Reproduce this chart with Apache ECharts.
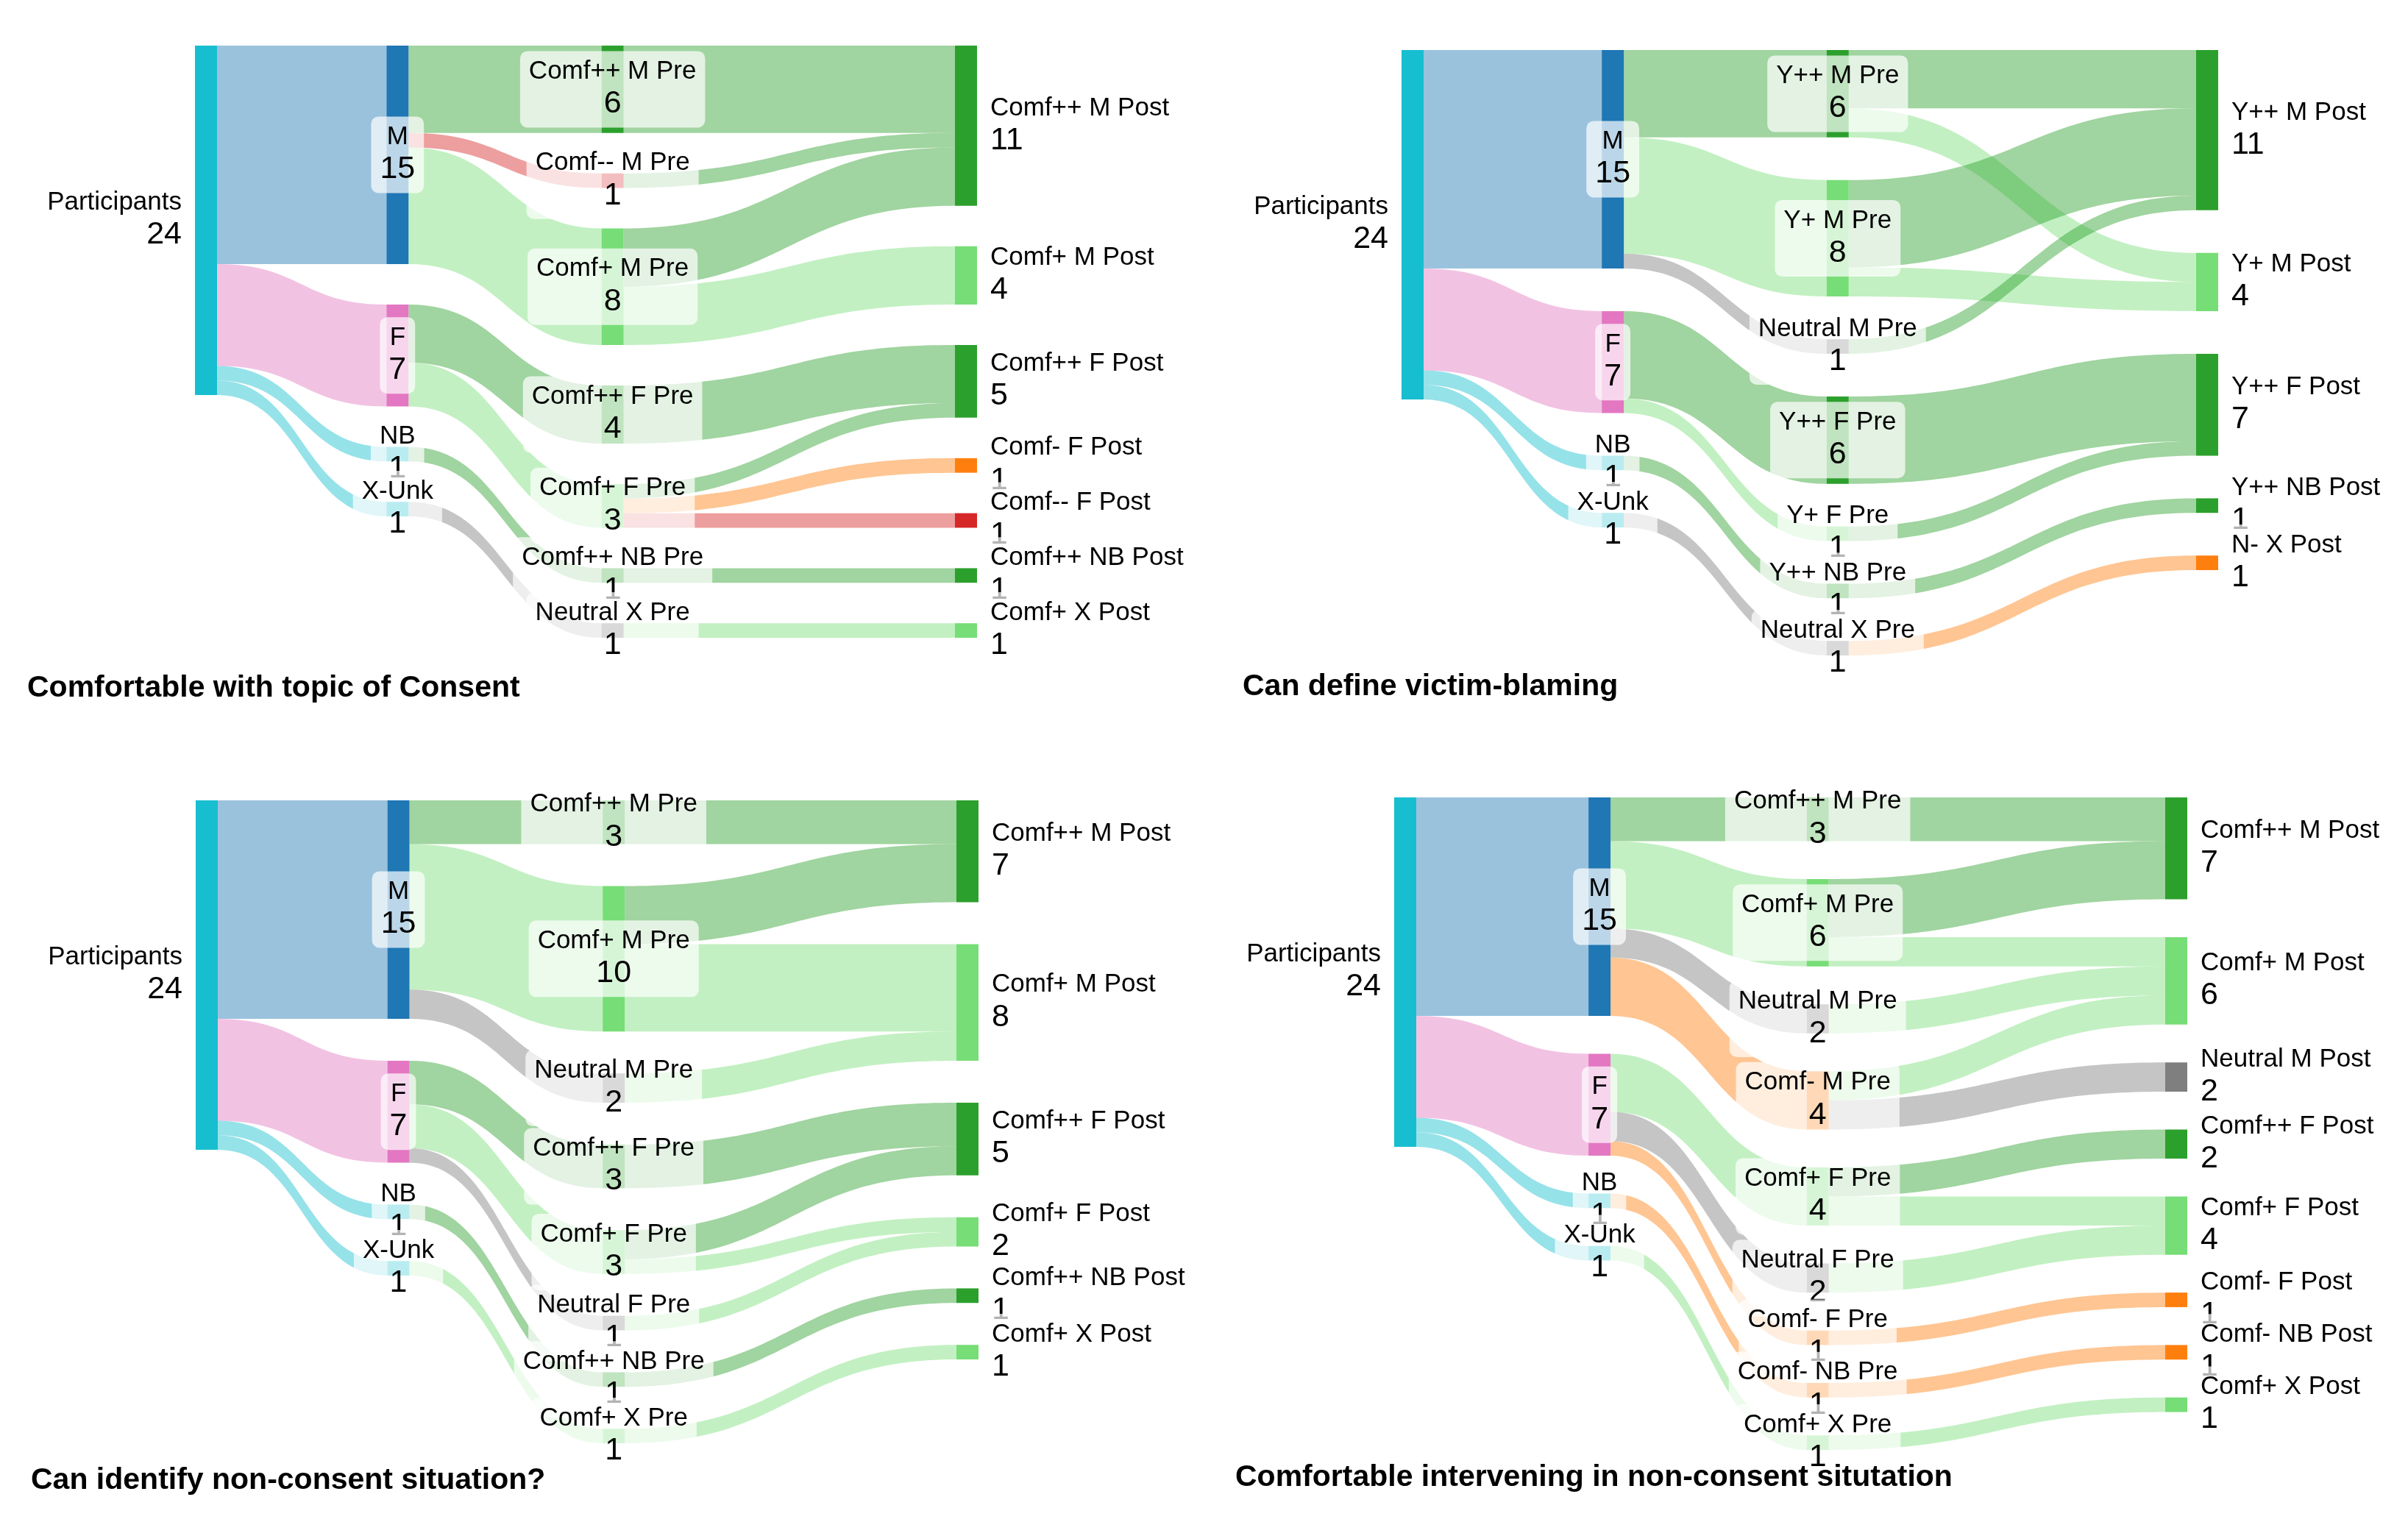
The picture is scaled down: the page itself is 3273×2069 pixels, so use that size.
<!DOCTYPE html>
<html>
<head>
<meta charset="utf-8">
<script src="https://cdn.jsdelivr.net/npm/echarts@6/dist/echarts.min.js"></script>
<style>
html,body{margin:0;padding:0;background:#fff;}
#chart{width:3273px;height:2069px;}
</style>
</head>
<body>
<div id="chart"></div>
<script>
// ---------- DATA ----------
const titles = [
  'Comfortable with topic of Consent',
  'Can define victim-blaming',
  'Can identify non-consent situation?',
  'Comfortable intervening in non-consent situtation'
];
const rootName = 'Participants';
const genders = ['M', 'F', 'NB', 'X-Unk'];
const genderCounts = [15, 7, 1, 1];

// Chart 1: Comfortable with topic of Consent
const c1Pre = ['Comf++ M Pre', 'Comf-- M Pre', 'Comf+ M Pre', 'Comf++ F Pre', 'Comf+ F Pre', 'Comf++ NB Pre', 'Neutral X Pre'];
const c1Post = ['Comf++ M Post', 'Comf+ M Post', 'Comf++ F Post', 'Comf- F Post', 'Comf-- F Post', 'Comf++ NB Post', 'Comf+ X Post'];
const c1GenderPre = [
  ['M', 'Comf++ M Pre', 6], ['M', 'Comf-- M Pre', 1], ['M', 'Comf+ M Pre', 8],
  ['F', 'Comf++ F Pre', 4], ['F', 'Comf+ F Pre', 3],
  ['NB', 'Comf++ NB Pre', 1], ['X-Unk', 'Neutral X Pre', 1]
];
const c1PrePost = [
  ['Comf++ M Pre', 'Comf++ M Post', 6], ['Comf-- M Pre', 'Comf++ M Post', 1],
  ['Comf+ M Pre', 'Comf++ M Post', 4], ['Comf+ M Pre', 'Comf+ M Post', 4],
  ['Comf++ F Pre', 'Comf++ F Post', 4], ['Comf+ F Pre', 'Comf++ F Post', 1],
  ['Comf+ F Pre', 'Comf- F Post', 1], ['Comf+ F Pre', 'Comf-- F Post', 1],
  ['Comf++ NB Pre', 'Comf++ NB Post', 1], ['Neutral X Pre', 'Comf+ X Post', 1]
];

// Chart 2: Can define victim-blaming
const c2Pre = ['Y++ M Pre', 'Y+ M Pre', 'Neutral M Pre', 'Y++ F Pre', 'Y+ F Pre', 'Y++ NB Pre', 'Neutral X Pre'];
const c2Post = ['Y++ M Post', 'Y+ M Post', 'Y++ F Post', 'Y++ NB Post', 'N- X Post'];
const c2GenderPre = [
  ['M', 'Y++ M Pre', 6], ['M', 'Y+ M Pre', 8], ['M', 'Neutral M Pre', 1],
  ['F', 'Y++ F Pre', 6], ['F', 'Y+ F Pre', 1],
  ['NB', 'Y++ NB Pre', 1], ['X-Unk', 'Neutral X Pre', 1]
];
const c2PrePost = [
  ['Y++ M Pre', 'Y++ M Post', 4], ['Y++ M Pre', 'Y+ M Post', 2],
  ['Y+ M Pre', 'Y++ M Post', 6], ['Y+ M Pre', 'Y+ M Post', 2],
  ['Neutral M Pre', 'Y++ M Post', 1],
  ['Y++ F Pre', 'Y++ F Post', 6], ['Y+ F Pre', 'Y++ F Post', 1],
  ['Y++ NB Pre', 'Y++ NB Post', 1], ['Neutral X Pre', 'N- X Post', 1]
];

// Chart 3: Can identify non-consent situation?
const c3Pre = ['Comf++ M Pre', 'Comf+ M Pre', 'Neutral M Pre', 'Comf++ F Pre', 'Comf+ F Pre', 'Neutral F Pre', 'Comf++ NB Pre', 'Comf+ X Pre'];
const c3Post = ['Comf++ M Post', 'Comf+ M Post', 'Comf++ F Post', 'Comf+ F Post', 'Comf++ NB Post', 'Comf+ X Post'];
const c3GenderPre = [
  ['M', 'Comf++ M Pre', 3], ['M', 'Comf+ M Pre', 10], ['M', 'Neutral M Pre', 2],
  ['F', 'Comf++ F Pre', 3], ['F', 'Comf+ F Pre', 3], ['F', 'Neutral F Pre', 1],
  ['NB', 'Comf++ NB Pre', 1], ['X-Unk', 'Comf+ X Pre', 1]
];
const c3PrePost = [
  ['Comf++ M Pre', 'Comf++ M Post', 3],
  ['Comf+ M Pre', 'Comf++ M Post', 4], ['Comf+ M Pre', 'Comf+ M Post', 6],
  ['Neutral M Pre', 'Comf+ M Post', 2],
  ['Comf++ F Pre', 'Comf++ F Post', 3],
  ['Comf+ F Pre', 'Comf++ F Post', 2], ['Comf+ F Pre', 'Comf+ F Post', 1],
  ['Neutral F Pre', 'Comf+ F Post', 1],
  ['Comf++ NB Pre', 'Comf++ NB Post', 1], ['Comf+ X Pre', 'Comf+ X Post', 1]
];

// Chart 4: Comfortable intervening in non-consent situtation
const c4Pre = ['Comf++ M Pre', 'Comf+ M Pre', 'Neutral M Pre', 'Comf- M Pre', 'Comf+ F Pre', 'Neutral F Pre', 'Comf- F Pre', 'Comf- NB Pre', 'Comf+ X Pre'];
const c4Post = ['Comf++ M Post', 'Comf+ M Post', 'Neutral M Post', 'Comf++ F Post', 'Comf+ F Post', 'Comf- F Post', 'Comf- NB Post', 'Comf+ X Post'];
const c4GenderPre = [
  ['M', 'Comf++ M Pre', 3], ['M', 'Comf+ M Pre', 6], ['M', 'Neutral M Pre', 2], ['M', 'Comf- M Pre', 4],
  ['F', 'Comf+ F Pre', 4], ['F', 'Neutral F Pre', 2], ['F', 'Comf- F Pre', 1],
  ['NB', 'Comf- NB Pre', 1], ['X-Unk', 'Comf+ X Pre', 1]
];
const c4PrePost = [
  ['Comf++ M Pre', 'Comf++ M Post', 3],
  ['Comf+ M Pre', 'Comf++ M Post', 4], ['Comf+ M Pre', 'Comf+ M Post', 2],
  ['Neutral M Pre', 'Comf+ M Post', 2],
  ['Comf- M Pre', 'Comf+ M Post', 2], ['Comf- M Pre', 'Neutral M Post', 2],
  ['Comf+ F Pre', 'Comf++ F Post', 2], ['Comf+ F Pre', 'Comf+ F Post', 2],
  ['Neutral F Pre', 'Comf+ F Post', 2],
  ['Comf- F Pre', 'Comf- F Post', 1],
  ['Comf- NB Pre', 'Comf- NB Post', 1],
  ['Comf+ X Pre', 'Comf+ X Post', 1]
];

// ---------- LAYOUT / STYLE ----------
const FONT = '"Liberation Sans", Arial, Helvetica, sans-serif';
const NODE_W = 30;
const COL_FRAC = [0, 0.252, 0.535, 1];
const panels = [
  { left: 265, top: 62, width: 1063, height: 805, gap: 55, tLeft: 37, tTop: 915 },
  { left: 1905, top: 68, width: 1110, height: 823, gap: 58, tLeft: 1689, tTop: 913 },
  { left: 266, top: 1088, width: 1064, height: 874, gap: 57, tLeft: 42, tTop: 1992 },
  { left: 1895, top: 1084, width: 1078, height: 887, gap: 51.5, tLeft: 1679, tTop: 1988 }
];
const charts = [
  { pre: c1Pre, post: c1Post, gp: c1GenderPre, pp: c1PrePost },
  { pre: c2Pre, post: c2Post, gp: c2GenderPre, pp: c2PrePost },
  { pre: c3Pre, post: c3Post, gp: c3GenderPre, pp: c3PrePost },
  { pre: c4Pre, post: c4Post, gp: c4GenderPre, pp: c4PrePost }
];

function colorFor(name) {
  if (name === rootName || name === 'NB' || name === 'X-Unk') return '#17becf';
  if (name === 'M') return '#1f77b4';
  if (name === 'F') return '#e377c2';
  if (name.startsWith('Comf++') || name.startsWith('Y++')) return '#2ca02c';
  if (name.startsWith('Comf+') || name.startsWith('Y+')) return '#77dd77';
  if (name.startsWith('Comf--')) return '#d62728';
  if (name.startsWith('Comf-') || name.startsWith('N-')) return '#ff7f0e';
  if (name.startsWith('Neutral')) return '#7f7f7f';
  return '#999';
}

function labelFor(depth) {
  const align = depth === 0 ? 'right' : (depth === 3 ? 'left' : 'center');
  return {
    show: true,
    position: depth === 0 ? 'left' : (depth === 3 ? 'right' : 'inside'),
    distance: 6,
    align: align,
    color: '#000',
    fontFamily: FONT,
    backgroundColor: 'rgba(255,255,255,0.7)',
    borderRadius: 10,
    padding: [8, 12],
    formatter: p => '{n|' + p.name + '}\n{v|' + p.value + '}',
    rich: {
      n: { fontSize: 35, lineHeight: 40, fontFamily: FONT, color: '#000', align: align },
      v: { fontSize: 43, lineHeight: 48, fontFamily: FONT, color: '#000', align: align }
    }
  };
}

function buildSeries(c, pnl) {
  const cols = [[rootName], genders, c.pre, c.post];
  const nodes = [];
  cols.forEach((col, d) => {
    col.forEach(name => {
      nodes.push({
        name: name,
        localX: COL_FRAC[d] * (pnl.width - NODE_W) / pnl.width,
        itemStyle: { color: colorFor(name), borderWidth: 0 },
        label: labelFor(d)
      });
    });
  });
  const links = [];
  genders.forEach((g, i) => links.push({ source: rootName, target: g, value: genderCounts[i] }));
  c.gp.forEach(l => links.push({ source: l[0], target: l[1], value: l[2] }));
  c.pp.forEach(l => links.push({ source: l[0], target: l[1], value: l[2] }));
  return {
    type: 'sankey',
    left: pnl.left, top: pnl.top, width: pnl.width, height: pnl.height,
    nodeWidth: NODE_W,
    nodeGap: pnl.gap,
    nodeAlign: 'justify',
    layoutIterations: 0,
    draggable: false,
    animation: false,
    emphasis: { disabled: true },
    lineStyle: { color: 'target', opacity: 0.45, curveness: 0.5 },
    data: nodes,
    links: links
  };
}

const chart = echarts.init(document.getElementById('chart'), null, { renderer: 'canvas' });
chart.setOption({
  backgroundColor: '#ffffff',
  animation: false,
  title: panels.map((p, i) => ({
    text: titles[i], left: p.tLeft, top: p.tTop, padding: 0,
    textStyle: { fontFamily: FONT, fontWeight: 'bold', fontSize: 41, color: '#000' }
  })),
  series: charts.map((c, i) => buildSeries(c, panels[i]))
});
</script>
</body>
</html>
